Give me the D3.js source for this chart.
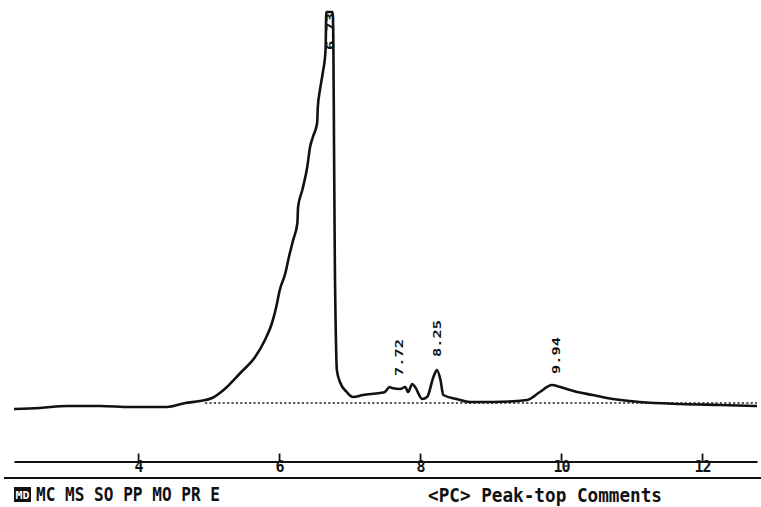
<!DOCTYPE html>
<html>
<head>
<meta charset="utf-8">
<script src="https://cdn.jsdelivr.net/npm/d3@7"></script>
<style>
  body { margin: 0; background: #fff; }
  svg { display: block; }
  .mono { font-family: "DejaVu Sans Mono", monospace; font-weight: bold; fill: #111; }
</style>
</head>
<body>
<script>
// retention time (min) and detector response
const times = [2.24, 2.61, 2.99, 3.46, 3.89, 4.41, 4.67, 4.88, 5.05, 5.23, 5.45, 5.66, 5.80, 5.90, 5.96,
  6.01, 6.09, 6.14, 6.20, 6.26, 6.27, 6.33, 6.40, 6.44, 6.48, 6.54, 6.55, 6.58, 6.62, 6.66, 6.67, 6.76,
  6.77, 6.78, 6.79, 6.81, 6.82, 6.87, 6.96, 7.05, 7.19, 7.43, 7.50, 7.57, 7.60, 7.72, 7.79, 7.83, 7.89,
  7.93, 8.03, 8.10, 8.19, 8.24, 8.29, 8.33, 8.52, 8.71, 9.04, 9.52, 9.70, 9.87, 9.99, 10.23, 10.45, 10.65,
  11.12, 11.69, 12.26, 12.78];
const signal = [0, 2.5, 7.5, 7.5, 5, 5, 15, 20, 27.5, 50, 90, 130, 172.5, 215, 255,
  297.5, 340, 380, 422.5, 465, 505, 547.5, 605, 655, 680, 715, 755, 797.5, 840, 897.5, 992.5, 992.5,
  922.5, 655, 397.5, 147.5, 97.5, 65, 42.5, 30, 35, 40, 42.5, 55, 52.5, 50, 55, 42.5, 62.5,
  55, 25, 30, 80, 97.5, 72.5, 35, 25, 17.5, 17.5, 22.5, 42.5, 60, 55, 42.5, 35, 27.5,
  17.5, 12.5, 10, 7.5];

const baselineTimes = [4.95, 12.78];
const baselineLevel = [15, 15];

const peakTimes = [6.73, 7.72, 8.25, 9.94];
const tickValues = [4, 6, 8, 10, 12];

const menuItems = ["MC", "MS", "SO", "PP", "MO", "PR", "E"];
const statusText = "<PC> Peak-top Comments";

const width = 761, height = 507;

const svg = d3.select("body").append("svg")
  .attr("width", width)
  .attr("height", height);

let x = d3.scaleLinear().domain([2.24, 12.78]).range([14, 757]);
let y = d3.scaleLinear().domain([0, 1000]).range([409, 9]);

let pts = times.map((t, i) => ({t: t, s: signal[i]}));

// dotted baseline
let base = baselineTimes.map((t, i) => ({t: t, s: baselineLevel[i]}));
svg.append("path")
  .datum(base)
  .attr("d", d3.line().x(d => x(d.t)).y(d => y(d.s)))
  .attr("fill", "none")
  .attr("stroke", "#222")
  .attr("stroke-width", 1.7)
  .attr("stroke-dasharray", "2.2,2.2");

// trace
svg.append("path")
  .datum(pts)
  .attr("d", d3.line().x(d => x(d.t)).y(d => y(d.s)).curve(d3.curveMonotoneX))
  .attr("fill", "none")
  .attr("stroke", "#111")
  .attr("stroke-width", 2.6)
  .attr("stroke-linejoin", "round");

// peak-top labels
function peakHeight(t) {
  let near = pts.filter(p => Math.abs(p.t - t) < 0.06);
  return d3.max(near, p => p.s);
}
svg.selectAll("text.peak")
  .data(peakTimes)
  .enter().append("text")
  .attr("class", "peak mono")
  .attr("font-size", 11)
  .attr("textLength", 37)
  .attr("lengthAdjust", "spacingAndGlyphs")
  .attr("transform", d => {
    let yy = Math.max(y(peakHeight(d)) - 13, 50);
    return "translate(" + (x(d) + 3) + "," + yy + ") rotate(-90)";
  })
  .text(d => d.toFixed(2));

// time axis, ticks pointing up
let axis = d3.axisBottom(x)
  .tickValues(tickValues)
  .tickSizeInner(-8)
  .tickSizeOuter(0)
  .tickPadding(0)
  .tickFormat(d3.format("d"));

let ax = svg.append("g")
  .attr("transform", "translate(0,461.5)")
  .call(axis);
ax.select(".domain").attr("stroke", "#111").attr("stroke-width", 2);
ax.selectAll(".tick line").attr("stroke", "#111").attr("stroke-width", 1.8);
ax.selectAll(".tick text")
  .attr("class", "mono")
  .attr("font-size", 15)
  .attr("letter-spacing", -1)
  .attr("dy", "0.72em")
  .attr("fill", "#111");

// status bar separator
svg.append("line")
  .attr("x1", 4).attr("x2", 761)
  .attr("y1", 478).attr("y2", 478)
  .attr("stroke", "#111")
  .attr("stroke-width", 2);

// menu line
svg.append("rect")
  .attr("x", 14).attr("y", 487)
  .attr("width", 17).attr("height", 15)
  .attr("fill", "#111");
svg.append("text")
  .attr("x", 15.5).attr("y", 499)
  .attr("font-family", "DejaVu Sans Mono, monospace")
  .attr("font-weight", "bold")
  .attr("font-size", 10)
  .attr("textLength", 14)
  .attr("lengthAdjust", "spacingAndGlyphs")
  .attr("fill", "#fff")
  .text("MD");

svg.append("text")
  .attr("class", "mono")
  .attr("x", 36).attr("y", 501)
  .attr("font-size", 19)
  .attr("textLength", 184)
  .attr("lengthAdjust", "spacingAndGlyphs")
  .text(menuItems.join(" "));

svg.append("text")
  .attr("class", "mono")
  .attr("x", 428).attr("y", 502)
  .attr("font-size", 19)
  .attr("textLength", 234)
  .attr("lengthAdjust", "spacingAndGlyphs")
  .text(statusText);
</script>
</body>
</html>
